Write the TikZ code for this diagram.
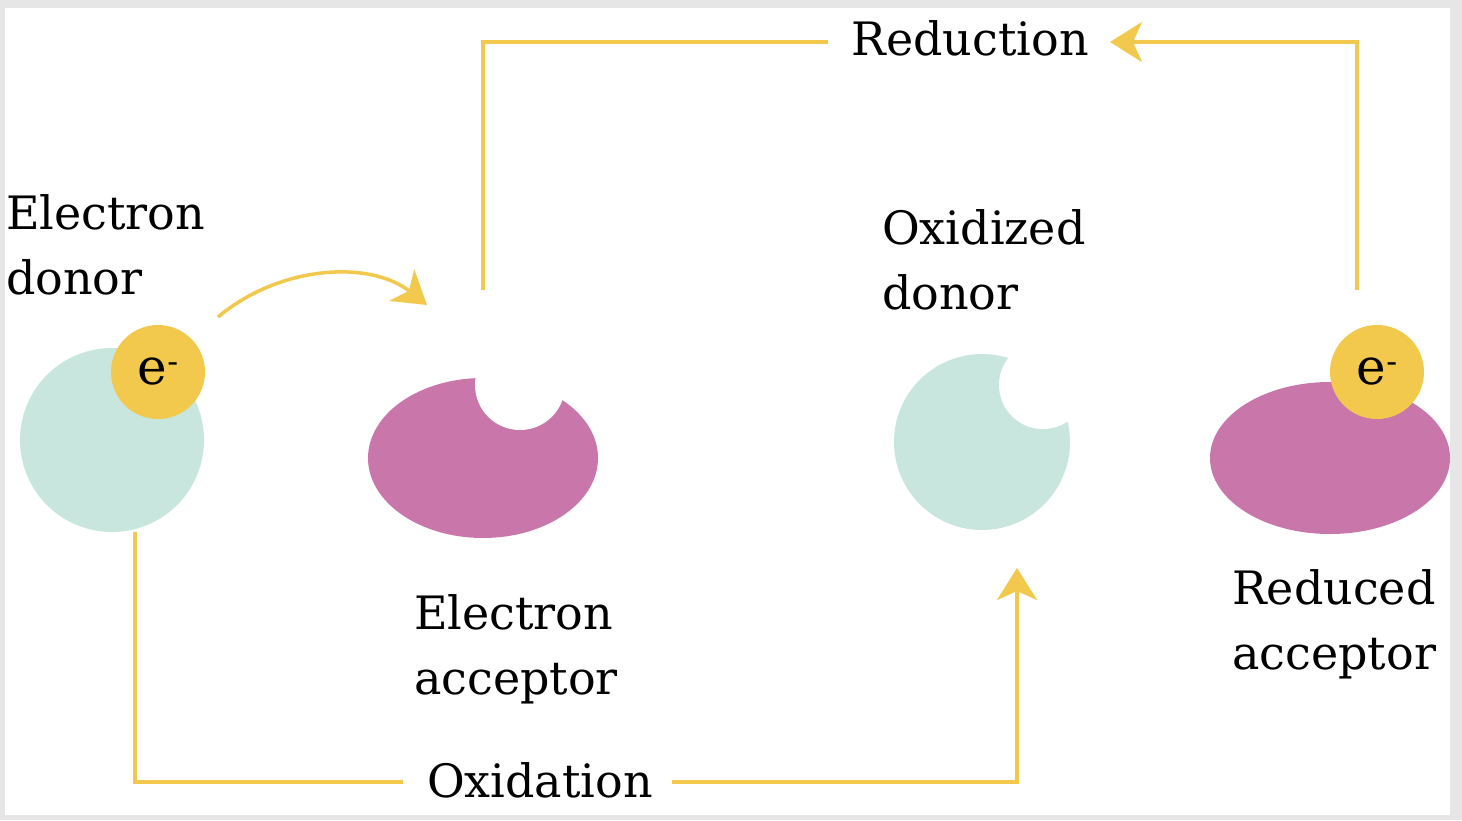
\documentclass[tikz,border=0pt]{standalone}
\usetikzlibrary{arrows.meta}
\usepackage{fontspec}
\setmainfont{DejaVu Serif}
\definecolor{teal1}{HTML}{C8E6DE}
\definecolor{pink1}{HTML}{C977AA}
\definecolor{gold1}{HTML}{F2C94C}
\definecolor{frame1}{HTML}{E6E6E6}
\tikzset{
  flow/.style={draw=gold1,line width=4pt},
  tip/.style={-{Stealth[length=32pt,width=40pt,inset=9pt]}},
  lbl/.style={font=\fontsize{46}{65}\selectfont,align=left,anchor=north west,inner sep=0pt},
  elec/.style={circle,fill=gold1,minimum size=94pt,inner sep=0pt,font=\fontsize{50}{50}\selectfont},
}
\begin{document}
\begin{tikzpicture}[x=1pt,y=-1pt]
\fill[frame1] (0,0) rectangle (1462,820);
\fill[white] (5,8) rectangle (1450,815);
\useasboundingbox (0,0) rectangle (1462,820);
% shapes
\fill[teal1] (112,440) ellipse [x radius=92,y radius=92];
\node[elec] (e1) at (158,372) {e\raisebox{12pt}{\fontsize{32}{32}\selectfont -}};
\fill[pink1] (483,458) ellipse [x radius=115,y radius=80];
\fill[white] (520,385) circle (45);
\fill[teal1] (982,442) circle (88);
\fill[white] (1043,385) circle (44);
\fill[pink1] (1330,458) ellipse [x radius=120,y radius=76];
\node[elec] (e2) at (1377,372) {e\raisebox{12pt}{\fontsize{32}{32}\selectfont -}};
% labels
\node[lbl] (ed) at (6,194) {Electron\\donor};
\node[lbl] (ea) at (414,594) {Electron\\acceptor};
\node[lbl] (od) at (882,209) {Oxidized\\donor};
\node[lbl] (ra) at (1232,569) {Reduced\\acceptor};
\node[font=\fontsize{46}{50}\selectfont,inner sep=0pt] (red) at (970,38) {Reduction};
\node[font=\fontsize{46}{50}\selectfont,inner sep=0pt] (ox) at (540,780) {Oxidation};
% connectors
\coordinate (c1) at (218,317);
\coordinate (c2) at (427,305);
\draw[flow,line width=3.5pt,tip] (c1) .. controls (280,265) and (370,260) .. (c2);
\coordinate (a1) at (483,290);
\coordinate (a1e) at (828,42);
\draw[flow] (a1) |- (a1e);
\coordinate (a2) at (1357,290);
\coordinate (a2e) at (1110,42);
\draw[flow,tip] (a2) |- (a2e);
\coordinate (b1) at (135,532);
\coordinate (b1e) at (403,782);
\draw[flow] (b1) |- (b1e);
\coordinate (b2s) at (672,782);
\coordinate (b2) at (1017,568);
\draw[flow,tip] (b2s) -| (b2);
\end{tikzpicture}
\end{document}
